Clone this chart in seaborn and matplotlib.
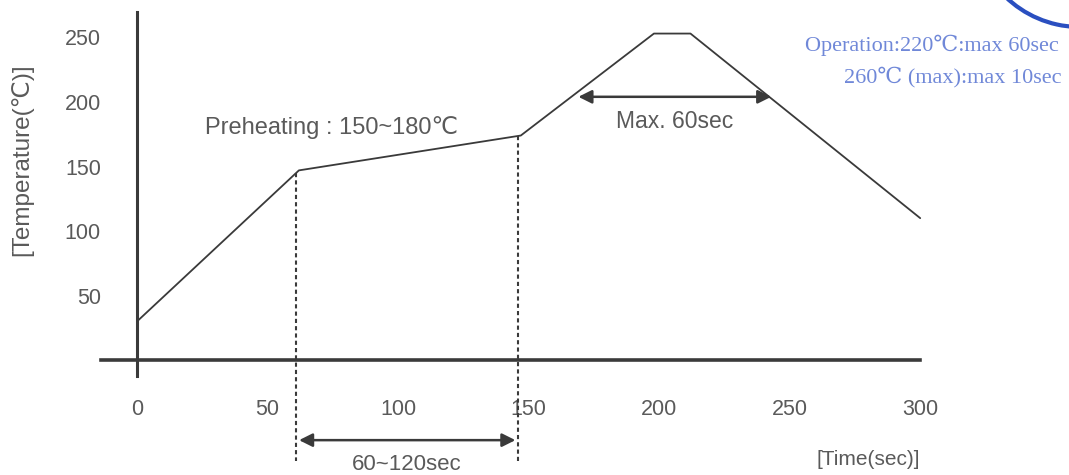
import numpy as np
import pandas as pd
import matplotlib
matplotlib.use("Agg")
import matplotlib.pyplot as plt
from matplotlib.patches import Arc
import seaborn as sns

sns.set_style("white")
plt.rcParams["font.family"] = ["Liberation Sans", "DejaVu Sans"]

# reflow profile
time_s = [0, 62, 147, 198, 212, 300]
temp_c = [30, 147, 174, 253, 253, 110]
x_ticks = [0, 50, 100, 150, 200, 250, 300]
y_ticks = [50, 100, 150, 200, 250]
preheat_span = [61, 146]
peak_span = [168, 244]
peak_level = 204

df = pd.DataFrame({"time": time_s, "temp": temp_c})

ink = "#3a3a3a"
txt = "#5a5a5a"

fig = plt.figure(figsize=(10.69, 4.75), dpi=100)
ax = fig.add_axes([0, 0, 1, 1])
sns.lineplot(data=df, x="time", y="temp", color=ink, lw=1.3, ax=ax)

ax.set_xlim(-52.5, 357)
ax.set_ylim(-89, 279)

for s in ["top", "right"]:
    ax.spines[s].set_visible(False)
ax.spines["left"].set_position(("data", 0))
ax.spines["bottom"].set_position(("data", 0))
ax.spines["left"].set_bounds(-12, 270)
ax.spines["bottom"].set_bounds(-14, 300)
ax.spines["left"].set_linewidth(2.2)
ax.spines["bottom"].set_linewidth(2.6)
ax.spines["left"].set_color(ink)
ax.spines["bottom"].set_color(ink)

ax.set_xticks(x_ticks)
ax.set_yticks(y_ticks)
ax.tick_params(axis="x", direction="out", length=20, width=1.3, colors=ink,
               labelcolor=txt, labelsize=15.5, pad=8)
ax.tick_params(axis="y", direction="out", length=20, width=2, colors=ink,
               labelcolor=txt, labelsize=15.5, pad=6)
ax.set_xlabel("")
ax.set_ylabel("")

ax.text(-44, 155, "[Temperature(℃)]", rotation=90, ha="center", va="center",
        fontsize=17.5, color=txt)
ax.text(300, -84, "[Time(sec)]", ha="right", va="bottom", fontsize=15, color=txt)

# dashed guides at the preheat boundaries
for t in preheat_span:
    top = np.interp(t, time_s, temp_c)
    ax.plot([t, t], [top, -78], ls=(0, (2, 1.5)), color=ink, lw=1.5)

ax.annotate("", xy=(preheat_span[0], -62), xytext=(preheat_span[1], -62),
            arrowprops=dict(arrowstyle="<|-|>", color=ink, lw=1.8, mutation_scale=20))
ax.text(sum(preheat_span) / 2, -80.5, "60~120sec", ha="center", va="center",
        fontsize=16, color=txt)

ax.annotate("", xy=(peak_span[0], peak_level), xytext=(peak_span[1], peak_level),
            arrowprops=dict(arrowstyle="<|-|>", color=ink, lw=1.8, mutation_scale=20))
ax.text(206, 185, "Max. 60sec", ha="center", va="center", fontsize=16.5, color=txt)

ax.text(26, 180, "Preheating : 150~180℃", ha="left", va="center",
        fontsize=17, color=txt)

blue = "#7088d8"
serif = ["Liberation Serif", "DejaVu Serif"]
ax.text(256, 244, "Operation:220℃:max 60sec", ha="left", va="center",
        fontsize=16, color=blue, family=serif)
ax.text(271, 219, "260℃ (max):max 10sec", ha="left", va="center",
        fontsize=16, color=blue, family=serif)

# edge of the blue stamp in the corner
stamp = Arc((1080, 555), 214, 214, transform=None, theta1=215, theta2=300,
            color="#2a4fc0", lw=3)
fig.patches.append(stamp)

fig.savefig("out.png", dpi=100)
